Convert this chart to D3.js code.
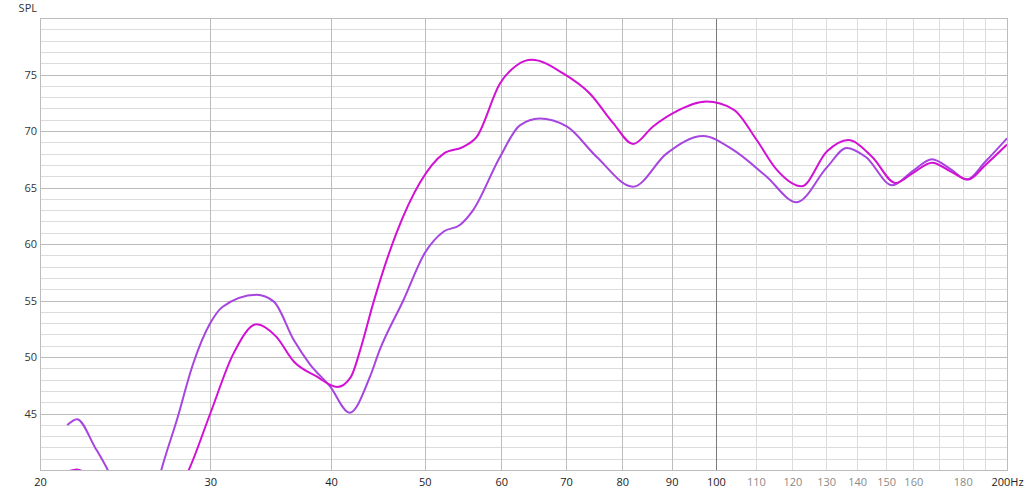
<!DOCTYPE html>
<html>
<head>
<meta charset="utf-8">
<script src="https://cdn.jsdelivr.net/npm/d3@7"></script>
<style>
  html, body { margin: 0; padding: 0; background: #fff; }
  svg { display: block; }
  text { font-family: "Open Sans", "Noto Sans", sans-serif; font-size: 11px; }
</style>
</head>
<body>
<svg id="chart" width="1027" height="495"></svg>
<script>
// ---- data ----
const xTicks = [20, 30, 40, 50, 60, 70, 80, 90, 100, 110, 120, 130, 140, 150, 160, 180, 200];
const xMinorGrid = [170, 190];
const yTicks = [45, 50, 55, 60, 65, 70, 75];

// series 1 (magenta): [frequency Hz, SPL dB]
const magentaFreq = [21.34, 21.84, 22.5, 24.0, 25.5, 27.0, 28.5, 30.0, 31.7, 33.5, 35.1, 36.6, 38.6, 40.6, 41.9, 43.0, 44.2, 46.7, 49.4, 52.3, 54.8, 56.6, 59.8, 62.2, 64.5, 69.5, 74.1, 78.3, 82.1, 86.1, 90.4, 97.8, 104.3, 110.2, 115.5, 122.6, 130.3, 137.0, 145.1, 153.4, 160.0, 167.3, 175.0, 182.4, 190.0, 200.0];
const magentaSPL  = [39.85, 40.05, 39.5, 36.5, 35.0, 36.5, 40.0, 45.0, 50.3, 52.9, 51.8, 49.6, 48.3, 47.35, 48.2, 51.0, 54.7, 60.9, 65.4, 68.0, 68.6, 69.5, 74.2, 75.8, 76.3, 75.1, 73.3, 70.7, 68.85, 70.4, 71.6, 72.6, 71.9, 69.2, 66.6, 65.1, 68.2, 69.2, 67.7, 65.4, 66.3, 67.2, 66.4, 65.7, 67.0, 68.8];

// series 2 (purple): [frequency Hz, SPL dB]
const purpleFreq = [21.34, 21.84, 22.8, 23.5, 24.2, 25.4, 26.3, 26.7, 27.7, 28.8, 30.0, 30.9, 33.5, 34.9, 36.6, 38.0, 39.9, 41.8, 43.9, 44.9, 47.5, 50.0, 52.3, 54.4, 56.1, 59.8, 62.7, 65.7, 70.1, 75.3, 82.1, 88.9, 97.0, 104.3, 112.7, 121.2, 130.3, 136.5, 142.9, 152.2, 160.0, 167.3, 175.0, 181.7, 190.0, 200.0];
const purpleSPL  = [43.98, 44.5, 42.0, 40.0, 37.5, 36.2, 37.8, 40.0, 44.4, 49.4, 53.0, 54.45, 55.5, 54.9, 51.5, 49.4, 47.4, 45.07, 48.3, 50.6, 55.0, 59.2, 61.1, 61.7, 63.0, 67.7, 70.5, 71.1, 70.4, 67.7, 65.07, 68.0, 69.55, 68.3, 66.0, 63.7, 66.8, 68.5, 67.7, 65.2, 66.5, 67.5, 66.6, 65.7, 67.3, 69.35];

// ---- layout ----
const svg = d3.select("#chart");
const mLeft = 40, mRight = 1007, mTop = 18, mBottom = 470;

const x = d3.scaleLog().domain([20, 200]).range([mLeft, mRight]);
const y = d3.scaleLinear().domain([40, 80]).range([mBottom, mTop]);

const g = svg.append("g");

// horizontal grid: every 1 dB
const yMinor = d3.range(41, 80);
g.selectAll("line.hminor").data(yMinor.filter(v => v % 5 !== 0)).join("line")
  .attr("x1", mLeft).attr("x2", mRight)
  .attr("y1", d => Math.round(y(d)) + 0.5).attr("y2", d => Math.round(y(d)) + 0.5)
  .attr("stroke", "#dcdcdc").attr("stroke-width", 1);
g.selectAll("line.hmajor").data(yMinor.filter(v => v % 5 === 0)).join("line")
  .attr("x1", mLeft).attr("x2", mRight)
  .attr("y1", d => Math.round(y(d)) + 0.5).attr("y2", d => Math.round(y(d)) + 0.5)
  .attr("stroke", "#bcbcbc").attr("stroke-width", 1);

// vertical grid
const vAll = xTicks.concat(xMinorGrid).filter(v => v > 20 && v < 200);
g.selectAll("line.v").data(vAll).join("line")
  .attr("x1", d => Math.round(x(d)) + 0.5).attr("x2", d => Math.round(x(d)) + 0.5)
  .attr("y1", mTop).attr("y2", mBottom)
  .attr("stroke", d => d === 100 ? "#7a7a7a" : (d > 100 ? "#dcdcdc" : "#bcbcbc"))
  .attr("stroke-width", 1);

// border
g.append("rect")
  .attr("x", mLeft + 0.5).attr("y", mTop + 0.5)
  .attr("width", mRight - mLeft).attr("height", mBottom - mTop)
  .attr("fill", "none").attr("stroke", "#bcbcbc");

// axes labels
const yAxis = d3.axisLeft(y).tickValues(yTicks).tickSize(0).tickPadding(3);
svg.append("g").attr("transform", `translate(${mLeft},0)`).call(yAxis)
  .call(s => s.select(".domain").remove())
  .call(s => s.selectAll("text").attr("fill", "#333").style("font-size", "11px").style("font-family", "'Open Sans', sans-serif"));

const xAxis = d3.axisBottom(x).tickValues(xTicks).tickSize(0).tickPadding(8)
  .tickFormat(d => d === 200 ? "200Hz" : String(d));
svg.append("g").attr("transform", `translate(0,${mBottom})`).call(xAxis)
  .call(s => s.select(".domain").remove())
  .call(s => s.selectAll("text")
    .attr("fill", d => (d > 100 && d < 200) ? "#8a8a8a" : "#222")
    .style("font-size", "11px").style("font-family", "'Open Sans', sans-serif"));

svg.append("text").attr("x", 37).attr("y", 12).attr("text-anchor", "end")
  .attr("fill", "#333").text("SPL");

// clip
svg.append("clipPath").attr("id", "plotclip").append("rect")
  .attr("x", mLeft).attr("y", mTop).attr("width", mRight - mLeft).attr("height", mBottom - mTop);

const line = d3.line().x(d => x(d[0])).y(d => y(d[1])).curve(d3.curveMonotoneX);

const purple = purpleFreq.map((f, i) => [f, purpleSPL[i]]);
const magenta = magentaFreq.map((f, i) => [f, magentaSPL[i]]);

const lines = svg.append("g").attr("clip-path", "url(#plotclip)");
lines.append("path").datum(purple).attr("d", line)
  .attr("fill", "none").attr("stroke", "#a645e0").attr("stroke-width", 2);
lines.append("path").datum(magenta).attr("d", line)
  .attr("fill", "none").attr("stroke", "#d211d4").attr("stroke-width", 2);
</script>
</body>
</html>
